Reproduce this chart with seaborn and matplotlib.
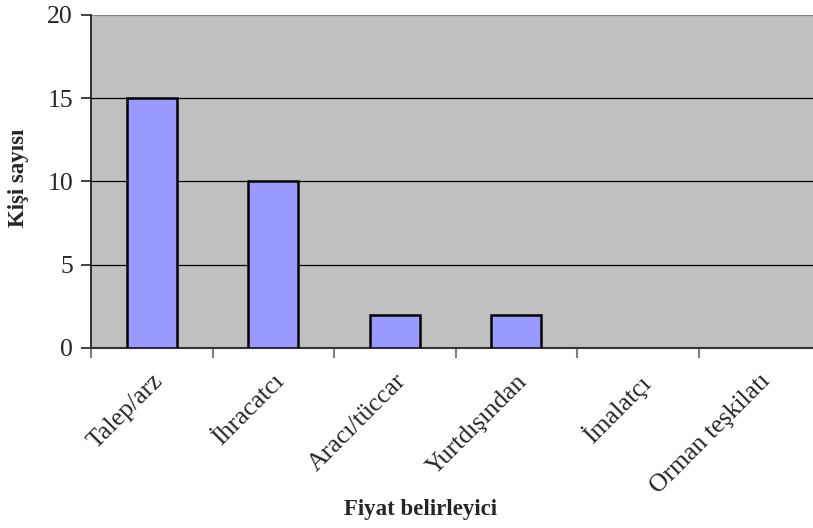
import matplotlib
matplotlib.use("Agg")
import matplotlib.pyplot as plt
import seaborn as sns
import pandas as pd
import numpy as np

# data
categories = ["Talep/arz", "İhracatcı", "Aracı/tüccar", "Yurtdışından", "İmalatçı", "Orman teşkilatı"]
counts = [15, 10, 2, 2, 0, 0]

df = pd.DataFrame({"Fiyat belirleyici": categories, "Kişi sayısı": counts})

sns.set_style("white")
plt.rcParams["font.family"] = ["Liberation Serif", "DejaVu Serif"]

fig = plt.figure(figsize=(8.13, 5.28), dpi=100)
ax = fig.add_axes([91 / 813, 1 - 348 / 528, (820 - 91) / 813, (348 - 15) / 528])

sns.barplot(data=df, x="Fiyat belirleyici", y="Kişi sayısı", color="#9999FF",
            saturation=1, width=0.41, edgecolor="black", linewidth=1.8, ax=ax, zorder=3)

# empty categories show no bar outline
for p in ax.patches:
    if p.get_height() == 0:
        p.set_visible(False)

ax.set_facecolor("#C0C0C0")
ax.set_xlim(-0.5, len(categories) - 0.5)
ax.set_ylim(0, 20)
ax.set_yticks([0, 5, 10, 15, 20])
ax.yaxis.grid(True, color="black", linewidth=0.9, zorder=1)
ax.set_axisbelow(True)
# top gridline is the grey plot-area border
ax.get_ygridlines()[-1].set_color("#808080")
ax.get_ygridlines()[-1].set_linewidth(1.6)

# category labels at centers, tick marks between categories
ax.set_xticks(range(len(categories)))
ax.set_xticklabels(categories, rotation=45, ha="right", rotation_mode="anchor", fontsize=18.5)
ax.set_xticks(np.arange(-0.5, len(categories)), minor=True)
ax.tick_params(axis="x", which="major", bottom=True, length=0, pad=16)
ax.tick_params(axis="x", which="minor", bottom=True, length=7, width=1.5, color="#808080")
ax.tick_params(axis="y", left=True, length=7, width=1.3, color="#333333", labelsize=18.5, pad=6)

for s in ["top", "right"]:
    ax.spines[s].set_visible(False)
ax.spines["left"].set_color("#222222")
ax.spines["left"].set_linewidth(1.3)
ax.spines["bottom"].set_color("#333333")
ax.spines["bottom"].set_linewidth(1.5)

ax.set_xlabel("Fiyat belirleyici", fontsize=16.5, fontweight="bold", va="center")
ax.xaxis.set_label_coords((420 - 91) / 729, -(509 - 348) / 333)
ax.set_ylabel("Kişi sayısı", fontsize=16.5, fontweight="bold", va="center")
ax.yaxis.set_label_coords(-(91 - 18) / 729, (348 - 178) / 333)

fig.savefig("out.png", dpi=100)
